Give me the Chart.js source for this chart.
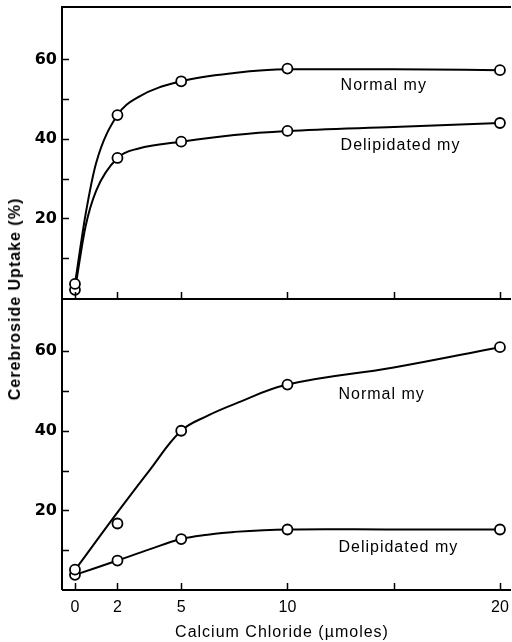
<!DOCTYPE html>
<html>
<head>
<meta charset="utf-8">
<script src="https://cdn.jsdelivr.net/npm/chart.js@4"></script>
<style>
  body { margin: 0; background: #fff; }
  #wrap { position: relative; width: 512px; height: 642px; overflow: hidden; }
  canvas { position: absolute; left: 0; }
  #topChart { top: 0; }
  #bottomChart { top: 292px; }
  .ytitle {
    position: absolute; left: 15px; top: 299px;
    transform: translate(-50%, -50%) rotate(-90deg);
    white-space: nowrap; font: bold 16px "Liberation Sans", Arial, sans-serif;
    letter-spacing: 1px; color: #000;
  }
  .xtitle {
    position: absolute; left: 282px; top: 632px;
    transform: translate(-50%, -50%);
    white-space: nowrap; font: 16px "Liberation Sans", Arial, sans-serif;
    letter-spacing: 1px; color: #000;
  }
</style>
</head>
<body>
<div id="wrap">
  <canvas id="topChart" width="512" height="300"></canvas>
  <canvas id="bottomChart" width="512" height="350"></canvas>
  <div class="ytitle">Cerebroside Uptake (%)</div>
  <div class="xtitle">Calcium Chloride (µmoles)</div>
</div>
<script>
// measured points (CaCl2 in µmoles)
const doses = [0, 2, 5, 10, 20];
const topNormal = [3.5, 46, 54.5, 57.7, 57.3];
const topDelip = [2, 35.2, 39.3, 42, 44];
const botNormal = [5.1, 16.7, 40, 51.6, 61];
const botDelip = [3.8, 7.4, 12.8, 15.2, 15.2];

// hand-drawn curves
const topCurveX = [0, 0.5, 1, 2, 3, 5, 7.5, 10, 15, 20];
const topNormalCurve = [3.5, 21, 34, 46, 50.6, 54.5, 56.6, 57.5, 57.5, 57.3];
const topDelipCurve = [2, 18, 27, 35.2, 37.6, 39.3, 41, 42, 43, 44];
const botCurveX = [0, 2, 3.5, 5, 6.25, 7.5, 10, 15, 20];
const botNormalCurve = [5, 19.5, 30, 40, 43.8, 46.7, 51.6, 55.9, 61];
const botDelipCurve = [3.8, 7.4, 10.2, 12.8, 13.9, 14.6, 15.2, 15.2, 15.2];

// axes
const xTicks = [0, 2, 5, 10, 15, 20];
const xTickLabels = [0, 2, 5, 10, 20];
const yTicks = [10, 20, 30, 40, 50, 60];
const yTickLabels = [20, 40, 60];

// curve labels
const topLabels = [
    { text: 'Normal my', x: 12.5, y: 53.5 },
    { text: 'Delipidated my', x: 12.5, y: 38.4 }
];
const botLabels = [
    { text: 'Normal my', x: 12.4, y: 49 },
    { text: 'Delipidated my', x: 12.4, y: 10.6 }
];

const FONT = '"Liberation Sans", Arial, sans-serif';

function pts(xs, ys) {
    return xs.map((x, i) => ({ x: x, y: ys[i] }));
}

function pointSet(xs, ys) {
    return {
        data: pts(xs, ys),
        showLine: false,
        pointRadius: 5,
        pointBorderWidth: 1.8,
        pointBorderColor: '#000',
        pointBackgroundColor: '#fff',
        clip: false,
        order: 0
    };
}

function curveSet(xs, ys, smooth) {
    return {
        data: pts(xs, ys),
        borderColor: '#000',
        borderWidth: 2,
        pointRadius: 0,
        cubicInterpolationMode: smooth ? 'default' : 'monotone',
        tension: 0.4,
        fill: false,
        clip: false,
        order: 1
    };
}

// frame lines, inward ticks on both axes and curve labels
const figurePlugin = {
    id: 'figure',
    afterDraw(chart, args, opts) {
        const ctx = chart.ctx;
        const a = chart.chartArea;
        const xs = chart.scales.x;
        const ys = chart.scales.y;
        ctx.save();
        ctx.strokeStyle = '#000';
        ctx.lineWidth = 2;
        ctx.beginPath();
        ctx.moveTo(a.left, a.bottom);
        ctx.lineTo(a.right, a.bottom);
        ctx.moveTo(a.left, a.bottom);
        ctx.lineTo(a.left, a.top);
        if (opts.top) {
            ctx.lineTo(a.right, a.top);
        }
        ctx.stroke();

        ctx.lineWidth = 1.5;
        ctx.beginPath();
        xTicks.forEach(v => {
            const px = Math.round(xs.getPixelForValue(v)) + 0.5;
            ctx.moveTo(px, a.bottom);
            ctx.lineTo(px, a.bottom - 7);
        });
        yTicks.forEach(v => {
            const py = Math.round(ys.getPixelForValue(v)) + 0.5;
            ctx.moveTo(a.left, py);
            ctx.lineTo(a.left + 7, py);
        });
        ctx.stroke();

        ctx.fillStyle = '#000';
        ctx.font = '16px ' + FONT;
        ctx.letterSpacing = '1px';
        ctx.textBaseline = 'middle';
        ctx.textAlign = 'left';
        (opts.labels || []).forEach(l => {
            ctx.fillText(l.text, xs.getPixelForValue(l.x), ys.getPixelForValue(l.y));
        });
        ctx.restore();
    }
};

function yScale(max, min) {
    return {
        type: 'linear',
        min: min,
        max: max,
        afterFit: s => {
            s.width = 62;
            s.paddingTop = 0;
            s.paddingBottom = 0;
        },
        afterBuildTicks: s => { s.ticks = yTicks.map(v => ({ value: v })); },
        ticks: {
            callback: v => yTickLabels.includes(v) ? String(v) : '',
            color: '#000',
            padding: 5,
            font: { family: '"DejaVu Sans", sans-serif', size: 16, weight: 'bold' }
        },
        grid: { display: false, drawTicks: false },
        border: { display: false }
    };
}

new Chart(document.getElementById('topChart'), {
    type: 'line',
    data: {
        datasets: [
            pointSet(doses, topNormal),
            pointSet(doses, topDelip),
            curveSet(topCurveX, topNormalCurve, false),
            curveSet(topCurveX, topDelipCurve, false)
        ]
    },
    options: {
        responsive: false,
        animation: false,
        devicePixelRatio: 1,
        layout: { autoPadding: false, padding: { top: 7, right: 1, bottom: 1, left: 0 } },
        plugins: {
            legend: { display: false },
            tooltip: { enabled: false },
            figure: { top: true, labels: topLabels }
        },
        scales: {
            x: { type: 'linear', min: -0.61, max: 20.52, display: false },
            y: yScale(73.2, -0.3)
        }
    },
    plugins: [figurePlugin]
});

new Chart(document.getElementById('bottomChart'), {
    type: 'line',
    data: {
        datasets: [
            pointSet(doses, botNormal),
            pointSet(doses, botDelip),
            curveSet(botCurveX, botNormalCurve, true),
            curveSet(botCurveX, botDelipCurve, true)
        ]
    },
    options: {
        responsive: false,
        animation: false,
        devicePixelRatio: 1,
        layout: { autoPadding: false, padding: { top: 7, right: 1, bottom: 0, left: 0 } },
        plugins: {
            legend: { display: false },
            tooltip: { enabled: false },
            figure: { top: false, labels: botLabels }
        },
        scales: {
            x: {
                type: 'linear',
                min: -0.61,
                max: 20.52,
                afterFit: s => {
                    s.height = 52;
                    s.paddingLeft = 0;
                    s.paddingRight = 0;
                },
                afterBuildTicks: s => { s.ticks = xTicks.map(v => ({ value: v })); },
                ticks: {
                    callback: v => xTickLabels.includes(v) ? String(v) : '',
                    color: '#000',
                    padding: 8,
                    maxRotation: 0,
                    autoSkip: false,
                    font: { family: FONT, size: 16 }
                },
                grid: { display: true, drawOnChartArea: false, drawTicks: false },
                border: { display: false }
            },
            y: yScale(73.1, 0)
        }
    },
    plugins: [figurePlugin]
});
</script>
</body>
</html>
